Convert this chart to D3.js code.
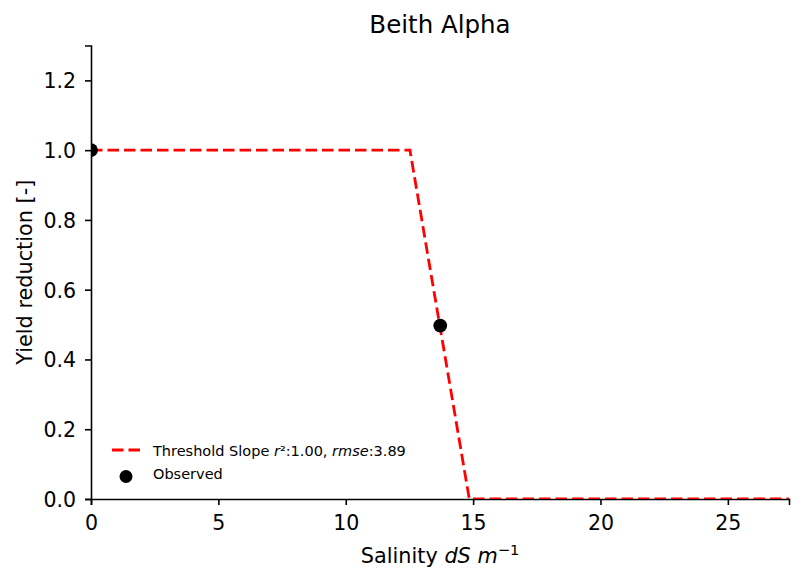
<!DOCTYPE html>
<html>
<head>
<meta charset="utf-8">
<script src="https://cdnjs.cloudflare.com/ajax/libs/d3/7.8.5/d3.min.js"></script>
<style>
  body { margin: 0; background: #fff; }
  text { font-family: "DejaVu Sans", sans-serif; fill: #000; }
</style>
</head>
<body>
<div id="chart"></div>
<script>
// threshold-slope model (salinity vs yield reduction)
const modelX = [0, 12.52, 14.85, 27.4];
const modelY = [1.0, 1.0, 0.0, 0.0];

// observed points
const obsX = [0, 13.71];
const obsY = [1.0, 0.497];

const xTicks = [0, 5, 10, 15, 20, 25];
const yTicks = [0.0, 0.2, 0.4, 0.6, 0.8, 1.0, 1.2];

const W = 803, H = 585;
const margin = { top: 45.5, right: 14, bottom: 86, left: 91 };
const width = W - margin.left - margin.right;
const height = H - margin.top - margin.bottom;

const svg = d3.select("#chart").append("svg")
  .attr("width", W)
  .attr("height", H);

const g = svg.append("g")
  .attr("transform", `translate(${margin.left},${margin.top})`);

const x = d3.scaleLinear().domain([0, 27.4]).range([0, width]);
const y = d3.scaleLinear().domain([0, 1.3]).range([height, 0]);

svg.append("defs").append("clipPath")
  .attr("id", "plotclip")
  .append("rect")
  .attr("width", width)
  .attr("height", height);

// axes
const xAxis = g.append("g")
  .attr("transform", `translate(0,${height})`)
  .call(d3.axisBottom(x).tickValues(xTicks).tickSize(6).tickFormat(d3.format("d")));
xAxis.selectAll(".tick text").attr("y", 31).attr("dy", 0);

const yAxis = g.append("g")
  .call(d3.axisLeft(y).tickValues(yTicks).tickSize(6).tickFormat(d3.format(".1f")));
yAxis.selectAll(".tick text").attr("x", -15).attr("dy", "0.36em");

[xAxis, yAxis].forEach(a => {
  a.select(".domain").attr("stroke", "#000").attr("stroke-width", 1.6);
  a.selectAll(".tick line").attr("stroke", "#000").attr("stroke-width", 1.6);
  a.selectAll(".tick text")
    .style("font-family", "'DejaVu Sans', sans-serif")
    .style("font-size", "20.5px")
    .attr("fill", "#000");
});

const plot = g.append("g").attr("clip-path", "url(#plotclip)");

// model line
const modelData = modelX.map((d, i) => ({ x: d, y: modelY[i] }));
const line = d3.line().x(d => x(d.x)).y(d => y(d.y));

plot.append("path")
  .datum(modelData)
  .attr("fill", "none")
  .attr("stroke", "#ff0000")
  .attr("stroke-width", 2.8)
  .attr("stroke-dasharray", "11.5,5")
  .attr("d", line);

// observed points
const obsData = obsX.map((d, i) => ({ x: d, y: obsY[i] }));
plot.selectAll("circle.obs")
  .data(obsData)
  .enter().append("circle")
  .attr("class", "obs")
  .attr("cx", d => x(d.x))
  .attr("cy", d => y(d.y))
  .attr("r", 6.9)
  .attr("fill", "#000");

// title
svg.append("text")
  .attr("x", margin.left + width / 2)
  .attr("y", 33.3)
  .attr("text-anchor", "middle")
  .style("font-size", "24.5px")
  .text("Beith Alpha");

// x label
const xl = svg.append("text")
  .attr("x", margin.left + width / 2)
  .attr("y", 563)
  .attr("text-anchor", "middle")
  .style("font-size", "20.8px");
xl.append("tspan").text("Salinity ");
xl.append("tspan").style("font-style", "italic").text("dS m");
xl.append("tspan").attr("dy", -8).style("font-size", "14.6px").text("\u22121");

// y label
svg.append("text")
  .attr("transform", `translate(32,${margin.top + height / 2}) rotate(-90)`)
  .attr("text-anchor", "middle")
  .style("font-size", "20.8px")
  .text("Yield reduction [-]");

// legend
const lg = g.append("g").attr("transform", `translate(${112 - margin.left},${450 - margin.top})`);
lg.append("line")
  .attr("x1", 0).attr("x2", 28)
  .attr("stroke", "#ff0000")
  .attr("stroke-width", 2.8)
  .attr("stroke-dasharray", "11.5,5");
const t1 = lg.append("text")
  .attr("x", 41).attr("y", 6)
  .style("font-size", "14.5px");
t1.append("tspan").text("Threshold Slope ");
t1.append("tspan").style("font-style", "italic").text("r");
t1.append("tspan").text("\u00b2:1.00, ");
t1.append("tspan").style("font-style", "italic").text("rmse");
t1.append("tspan").text(":3.89");

lg.append("circle")
  .attr("cx", 14).attr("cy", 26.5)
  .attr("r", 6.5)
  .attr("fill", "#000");
lg.append("text")
  .attr("x", 41).attr("y", 28.5)
  .style("font-size", "14.5px")
  .text("Observed");
</script>
</body>
</html>
